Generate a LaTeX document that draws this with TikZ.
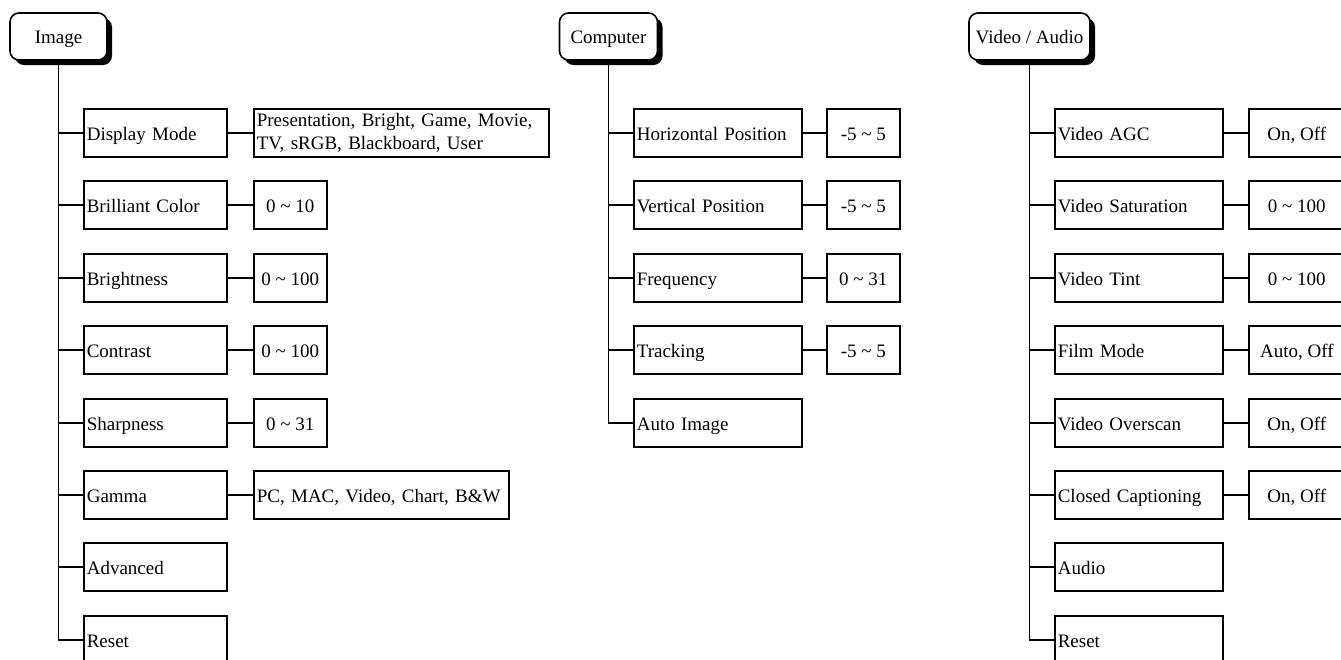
\documentclass[tikz,border=0pt]{standalone}
\usepackage{fontspec}
\setmainfont{Liberation Serif}
\usetikzlibrary{shadows}
\begin{document}
\begin{tikzpicture}[x=1pt,y=-1pt,
  every node/.style={font=\fontsize{19}{23}\selectfont},
  fixh/.style={text height=15pt, text depth=1pt},
  hdr/.style={draw, fill=white, rounded corners=9pt, line width=1.6pt, fixh,
    minimum height=47pt, inner sep=1pt,
    drop shadow={shadow xshift=5pt, shadow yshift=-5pt, opacity=1, fill=black}},
  item/.style={draw, line width=1.6pt, minimum height=48pt, text width=#1, fixh,
    align=left, inner xsep=3pt, anchor=west},
  val/.style={draw, line width=1.6pt, minimum height=48pt, minimum width=#1, fixh,
    inner sep=2pt, anchor=west},
  vall/.style={draw, line width=1.6pt, minimum height=48pt, text width=#1,
    align=left, inner xsep=3pt, inner ysep=2pt, anchor=west},
  conn/.style={line width=1.6pt}]
\useasboundingbox (0,0) rectangle (1341,659);
\clip (0,0) rectangle (1341,659);

% ---------- Image column ----------
\node[hdr, minimum width=97pt] (img) at (58.5,36.5) {Image};
\node[item=137pt] (i1) at (83,133) {Display Mode};
\node[item=137pt] (i2) at (83,205) {Brilliant Color};
\node[item=137pt] (i3) at (83,278) {Brightness};
\node[item=137pt] (i4) at (83,350) {Contrast};
\node[item=137pt] (i5) at (83,423) {Sharpness};
\node[item=137pt] (i6) at (83,495) {Gamma};
\node[item=137pt] (i7) at (83,567) {Advanced};
\node[item=137pt] (i8) at (83,640) {Reset};
\foreach \n in {1,...,8} \draw[conn] (img.south) |- (i\n.west);

\node[vall=289pt] (v1) at (253,133) {Presentation, Bright, Game, Movie,\\TV, sRGB, Blackboard, User};
\node[val=73pt] (v2) at (253,205) {0 \char`~\ 10};
\node[val=73pt] (v3) at (253,278) {0 \char`~\ 100};
\node[val=73pt] (v4) at (253,350) {0 \char`~\ 100};
\node[val=73pt] (v5) at (253,423) {0 \char`~\ 31};
\node[item=249pt] (v6) at (253,495) {PC, MAC, Video, Chart, B\&W};
\foreach \n in {1,...,6} \draw[conn] (i\n.east) -- (v\n.west);

% ---------- Computer column ----------
\node[hdr, minimum width=98pt] (cmp) at (608.5,36.5) {Computer};
\node[item=162pt] (c1) at (633,133) {Horizontal Position};
\node[item=162pt] (c2) at (633,205) {Vertical Position};
\node[item=162pt] (c3) at (633,278) {Frequency};
\node[item=162pt] (c4) at (633,350) {Tracking};
\node[item=162pt] (c5) at (633,423) {Auto Image};
\foreach \n in {1,...,5} \draw[conn] (cmp.south) |- (c\n.west);

\node[val=73pt] (w1) at (826,133) {-5 \char`~\ 5};
\node[val=73pt] (w2) at (826,205) {-5 \char`~\ 5};
\node[val=73pt] (w3) at (826,278) {0 \char`~\ 31};
\node[val=73pt] (w4) at (826,350) {-5 \char`~\ 5};
\foreach \n in {1,...,4} \draw[conn] (c\n.east) -- (w\n.west);

% ---------- Video / Audio column ----------
\node[hdr, minimum width=121pt] (vid) at (1029.5,36.5) {Video / Audio};
\node[item=162pt] (a1) at (1054,133) {Video AGC};
\node[item=162pt] (a2) at (1054,205) {Video Saturation};
\node[item=162pt] (a3) at (1054,278) {Video Tint};
\node[item=162pt] (a4) at (1054,350) {Film Mode};
\node[item=162pt] (a5) at (1054,423) {Video Overscan};
\node[item=162pt] (a6) at (1054,495) {Closed Captioning};
\node[item=162pt] (a7) at (1054,567) {Audio};
\node[item=162pt] (a8) at (1054,640) {Reset};
\foreach \n in {1,...,8} \draw[conn] (vid.south) |- (a\n.west);

\node[val=96pt] (u1) at (1248,133) {On, Off};
\node[val=96pt] (u2) at (1248,205) {0 \char`~\ 100};
\node[val=96pt] (u3) at (1248,278) {0 \char`~\ 100};
\node[val=96pt] (u4) at (1248,350) {Auto, Off};
\node[val=96pt] (u5) at (1248,423) {On, Off};
\node[val=96pt] (u6) at (1248,495) {On, Off};
\foreach \n in {1,...,6} \draw[conn] (a\n.east) -- (u\n.west);
\end{tikzpicture}
\end{document}
